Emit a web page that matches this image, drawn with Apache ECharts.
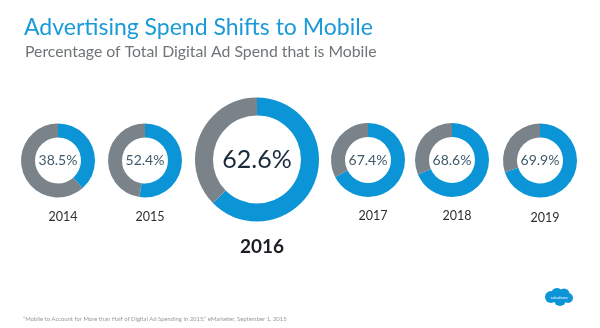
<!DOCTYPE html>
<html><head><meta charset="utf-8">
<script src="https://cdn.jsdelivr.net/npm/echarts@6/dist/echarts.min.js"></script>
<style>html,body{margin:0;padding:0;background:#fff}#c{width:600px;height:328px}</style>
</head><body><div id="c"></div>
<script>
// Data
var years = ['2014', '2015', '2016', '2017', '2018', '2019'];
var mobileShare = [38.5, 52.4, 62.6, 67.4, 68.6, 69.9];
var titleText = 'Advertising Spend Shifts to Mobile';
var subtitleText = 'Percentage of Total Digital Ad Spend that is Mobile';
var sourceText = '\u201CMobile to Account for More than Half of Digital Ad Spending in 2015,\u201D eMarketer, September 1, 2015';

// Layout (pixels)
var centersX = [58, 145, 257, 368, 452, 540];
var centersY = [160.5, 160.5, 159.5, 160, 160, 160.5];
var outerR = [37, 37, 62, 37, 37, 37];
var innerR = [23, 23, 44, 23, 23, 23];
var yearY = [212, 212, 242, 211, 211, 213];
var highlight = 2;

var BLUE = '#0b95d6', GREY = '#7a838a';
var FONT = 'Lato';

var series = [], titles = [];
titles.push({text: titleText, left: 19, top: 11, textStyle: {fontFamily: FONT, fontSize: 23, fontWeight: 'normal', color: '#1a9ad8'}});
titles.push({text: subtitleText, left: 20, top: 38.5, textStyle: {fontFamily: FONT, fontSize: 15.8, fontWeight: 'normal', color: '#6f7477'}});
titles.push({text: sourceText, left: 18, top: 311, textStyle: {fontFamily: FONT, fontSize: 5.9, fontWeight: 'normal', color: '#9a9a9a'}});

years.forEach(function (y, i) {
  var big = i === highlight;
  series.push({
    type: 'pie',
    center: [centersX[i], centersY[i]],
    radius: [innerR[i], outerR[i]],
    startAngle: 90,
    clockwise: true,
    silent: true,
    animation: false,
    labelLine: {show: false},
    label: {
      show: true, position: 'center',
      formatter: function () { return mobileShare[i].toFixed(1) + '%'; },
      fontFamily: FONT,
      fontSize: big ? 25 : 14,
      color: big ? '#1b2b3c' : '#3e5a6a'
    },
    data: [
      {value: mobileShare[i], name: 'Mobile', itemStyle: {color: BLUE}},
      {value: +(100 - mobileShare[i]).toFixed(1), name: 'Other', itemStyle: {color: GREY}, label: {show: false}}
    ]
  });
  titles.push({
    text: y, left: centersX[i], top: yearY[i], textAlign: 'center', textVerticalAlign: 'middle',
    textStyle: {fontFamily: FONT, fontSize: big ? 19 : 12.5, fontWeight: big ? 'bold' : 'normal', color: big ? '#1b1e22' : '#2d2f31'}
  });
});

var chart = echarts.init(document.getElementById('c'), null, {renderer: 'canvas'});
chart.setOption({
  animation: false,
  title: titles,
  series: series,
  graphic: [{
    type: 'group', left: 545, top: 288,
    children: [
      {type: 'circle', shape: {cx: 6, cy: 9, r: 6}, style: {fill: BLUE}},
      {type: 'circle', shape: {cx: 12, cy: 6, r: 6}, style: {fill: BLUE}},
      {type: 'circle', shape: {cx: 19, cy: 6, r: 5.5}, style: {fill: BLUE}},
      {type: 'circle', shape: {cx: 23, cy: 10, r: 5}, style: {fill: BLUE}},
      {type: 'circle', shape: {cx: 15, cy: 12, r: 6}, style: {fill: BLUE}},
      {type: 'text', style: {text: 'salesforce', x: 14.5, y: 9.5, align: 'center', verticalAlign: 'middle', fill: '#fff', font: '4px ' + FONT}}
    ]
  }]
});
</script></body></html>
